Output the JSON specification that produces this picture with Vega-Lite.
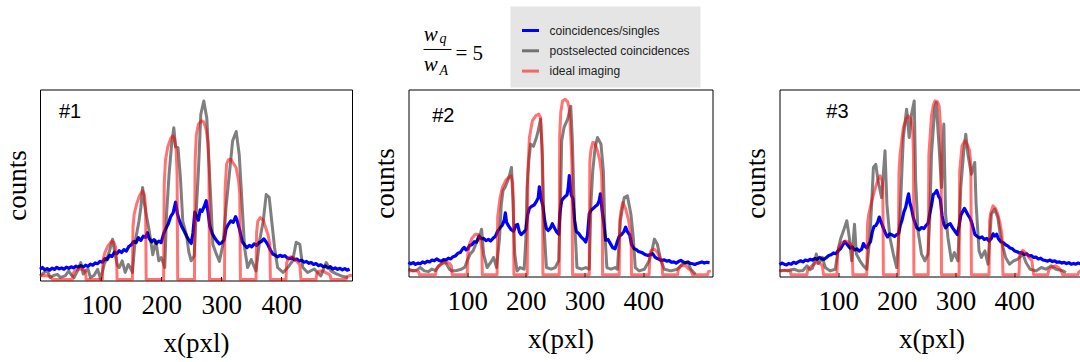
{
"$schema": "https://vega.github.io/schema/vega-lite/v6.json",
"padding": {"left": 2, "top": 5.5, "right": 0, "bottom": 0},
"background": "white",
"config": {
 "view": {"stroke": "black", "strokeWidth": 1},
 "axisX": {"grid": false, "domain": false, "tickColor": "black", "tickSize": -4, "tickWidth": 1, "labelFont": "Liberation Serif", "labelFontSize": 27, "labelColor": "black", "labelPadding": 16, "titleFont": "Liberation Serif", "titleFontSize": 27, "titleFontWeight": "normal", "titleColor": "black", "titlePadding": 12},
 "axisY": {"grid": false, "domain": false, "ticks": false, "labels": false, "titleFont": "Liberation Serif", "titleFontSize": 27, "titleFontWeight": "normal", "titleColor": "black", "titlePadding": 9},
 "title": {"font": "Liberation Sans", "fontSize": 20, "fontWeight": "normal", "color": "black", "anchor": "start", "frame": "group", "baseline": "alphabetic", "offset": -32}
},
"spacing": 16.5,
"resolve": {"scale": {"color": "independent"}, "legend": {"color": "independent"}},
"hconcat": [
{
 "width": 312, "height": 191,
 "title": {"text": "#1", "dx": 19},
 "encoding": {
  "x": {"field": "x", "type": "quantitative", "scale": {"domain": [-2, 518], "nice": false}, "axis": {"values": [100, 200, 300, 400]}, "title": "x(pxl)"},
  "y": {"field": "y", "type": "quantitative", "scale": {"domain": [0, 100], "nice": false}, "title": "counts"}
 },
 "layer": [
  {"mark": {"type": "line", "color": "#0000ff", "strokeWidth": 3.2, "strokeJoin": "round"},
   "data": {"values": [
{"x":-2,"y":5.9},{"x":2,"y":6.8},{"x":6,"y":5.6},{"x":10,"y":6.2},{"x":14,"y":5.4},{"x":18,"y":6.5},{"x":22,"y":5.8},{"x":26,"y":6.9},{"x":30,"y":6.1},{"x":34,"y":6.6},{"x":38,"y":5.9},{"x":42,"y":7.0},{"x":46,"y":6.4},{"x":50,"y":7.2},{"x":54,"y":6.6},{"x":58,"y":7.5},{"x":62,"y":6.9},{"x":66,"y":7.8},{"x":70,"y":7.1},{"x":74,"y":8.0},{"x":78,"y":7.4},{"x":82,"y":8.6},{"x":86,"y":8.0},{"x":90,"y":9.2},{"x":94,"y":8.8},{"x":98,"y":10.0},{"x":102,"y":9.6},{"x":106,"y":11.5},{"x":110,"y":11.0},{"x":114,"y":13.2},{"x":118,"y":12.6},{"x":122,"y":14.8},{"x":126,"y":14.0},{"x":130,"y":15.6},{"x":134,"y":14.6},{"x":138,"y":16.2},{"x":142,"y":15.4},{"x":146,"y":17.8},{"x":150,"y":18.6},{"x":154,"y":20.4},{"x":158,"y":19.8},{"x":162,"y":22.4},{"x":166,"y":21.0},{"x":170,"y":23.2},{"x":174,"y":22.6},{"x":177,"y":25.0},{"x":180,"y":22.0},{"x":184,"y":20.2},{"x":188,"y":21.4},{"x":192,"y":19.4},{"x":196,"y":20.6},{"x":200,"y":19.8},{"x":204,"y":24.5},{"x":208,"y":27.4},{"x":212,"y":29.8},{"x":216,"y":33.6},{"x":220,"y":35.5},{"x":224,"y":41.0},{"x":227,"y":35.0},{"x":230,"y":31.6},{"x":234,"y":28.4},{"x":238,"y":26.0},{"x":242,"y":23.4},{"x":246,"y":21.2},{"x":250,"y":19.4},{"x":253,"y":25.0},{"x":256,"y":35.8},{"x":259,"y":33.4},{"x":262,"y":31.6},{"x":265,"y":37.0},{"x":268,"y":36.2},{"x":272,"y":39.0},{"x":275,"y":41.8},{"x":278,"y":36.0},{"x":281,"y":28.4},{"x":285,"y":24.6},{"x":289,"y":22.4},{"x":293,"y":20.6},{"x":297,"y":19.2},{"x":301,"y":19.8},{"x":305,"y":21.2},{"x":308,"y":27.0},{"x":312,"y":29.4},{"x":316,"y":31.2},{"x":320,"y":30.4},{"x":324,"y":33.4},{"x":327,"y":31.0},{"x":331,"y":26.2},{"x":335,"y":20.4},{"x":339,"y":18.6},{"x":343,"y":17.2},{"x":347,"y":18.4},{"x":351,"y":17.6},{"x":355,"y":19.2},{"x":359,"y":18.4},{"x":363,"y":19.8},{"x":367,"y":20.4},{"x":371,"y":21.8},{"x":374,"y":20.6},{"x":378,"y":18.6},{"x":382,"y":16.0},{"x":386,"y":13.8},{"x":390,"y":13.2},{"x":394,"y":12.4},{"x":398,"y":13.2},{"x":402,"y":12.6},{"x":406,"y":13.0},{"x":410,"y":11.8},{"x":414,"y":11.4},{"x":418,"y":12.0},{"x":422,"y":10.8},{"x":426,"y":11.2},{"x":430,"y":10.2},{"x":434,"y":10.6},{"x":438,"y":9.6},{"x":442,"y":10.0},{"x":446,"y":9.0},{"x":450,"y":9.4},{"x":454,"y":8.4},{"x":458,"y":8.9},{"x":462,"y":7.8},{"x":466,"y":8.2},{"x":470,"y":7.2},{"x":474,"y":7.6},{"x":478,"y":6.6},{"x":482,"y":7.2},{"x":486,"y":6.0},{"x":490,"y":6.6},{"x":494,"y":5.8},{"x":498,"y":6.4},{"x":502,"y":5.6},{"x":506,"y":6.2},{"x":510,"y":5.4},{"x":514,"y":6.0}
   ]}},
  {"mark": {"type": "line", "color": "rgba(0,0,0,0.5)", "strokeWidth": 3, "strokeJoin": "round"},
   "data": {"values": [
{"x":-2,"y":2.4},{"x":5,"y":4.2},{"x":10,"y":5.0},{"x":15,"y":1.6},{"x":22,"y":2.8},{"x":27,"y":3.2},{"x":32,"y":1.6},{"x":40,"y":2.4},{"x":46,"y":5.0},{"x":50,"y":3.0},{"x":55,"y":1.6},{"x":60,"y":4.8},{"x":66,"y":9.4},{"x":70,"y":3.4},{"x":74,"y":5.0},{"x":78,"y":6.0},{"x":82,"y":1.6},{"x":88,"y":2.6},{"x":94,"y":5.9},{"x":99,"y":0.7},{"x":105,"y":8.6},{"x":110,"y":12.0},{"x":114,"y":15.6},{"x":119,"y":21.6},{"x":123,"y":13.8},{"x":127,"y":8.0},{"x":130,"y":6.8},{"x":135,"y":10.3},{"x":140,"y":4.2},{"x":145,"y":8.4},{"x":148,"y":7.0},{"x":152,"y":4.2},{"x":156,"y":19.0},{"x":160,"y":26.0},{"x":163,"y":31.2},{"x":166,"y":38.0},{"x":169,"y":48.7},{"x":172,"y":40.0},{"x":175,"y":34.7},{"x":180,"y":26.0},{"x":186,"y":13.5},{"x":191,"y":20.8},{"x":196,"y":10.3},{"x":200,"y":12.0},{"x":206,"y":6.8},{"x":209,"y":35.0},{"x":213,"y":55.0},{"x":217,"y":70.0},{"x":221,"y":80.0},{"x":224,"y":70.0},{"x":228,"y":69.6},{"x":232,"y":54.0},{"x":236,"y":31.0},{"x":242,"y":24.0},{"x":246,"y":15.0},{"x":250,"y":10.3},{"x":255,"y":13.0},{"x":259,"y":40.0},{"x":262,"y":57.0},{"x":266,"y":87.0},{"x":271,"y":94.0},{"x":276,"y":85.0},{"x":280,"y":59.0},{"x":283,"y":40.0},{"x":286,"y":19.0},{"x":292,"y":13.8},{"x":297,"y":10.0},{"x":303,"y":19.0},{"x":308,"y":38.0},{"x":314,"y":57.0},{"x":319,"y":73.0},{"x":325,"y":78.0},{"x":330,"y":66.0},{"x":333,"y":50.0},{"x":339,"y":17.0},{"x":344,"y":6.8},{"x":350,"y":11.0},{"x":358,"y":5.0},{"x":364,"y":20.8},{"x":370,"y":31.0},{"x":375,"y":45.0},{"x":380,"y":43.5},{"x":383,"y":34.7},{"x":389,"y":17.0},{"x":394,"y":6.8},{"x":403,"y":4.2},{"x":411,"y":6.8},{"x":419,"y":10.3},{"x":425,"y":20.0},{"x":431,"y":19.0},{"x":436,"y":6.8},{"x":444,"y":4.2},{"x":455,"y":6.0},{"x":466,"y":2.4},{"x":475,"y":9.4},{"x":483,"y":5.0},{"x":491,"y":3.6},{"x":500,"y":2.4},{"x":511,"y":1.6}
   ]}},
  {"mark": {"type": "line", "color": "rgba(255,0,0,0.55)", "strokeWidth": 3, "strokeJoin": "round"},
   "data": {"values": [
{"x":-2,"y":2.4},{"x":5,"y":2.6},{"x":12,"y":2.4},{"x":17,"y":1.8},{"x":18.5,"y":0.5},
{"x":52,"y":0.5},{"x":53,"y":3.6},{"x":56,"y":5.0},{"x":62,"y":5.9},{"x":68,"y":6.0},{"x":72,"y":5.4},{"x":74,"y":4.0},{"x":75,"y":0.5},
{"x":102,"y":0.5},{"x":103,"y":10.5},{"x":106,"y":14.5},{"x":111,"y":18},{"x":117,"y":20.4},{"x":121,"y":20},{"x":124,"y":17.5},{"x":125.5,"y":12},{"x":126.5,"y":0.5},
{"x":152,"y":0.5},{"x":153,"y":28},{"x":155,"y":34.7},{"x":159,"y":40},{"x":164,"y":44.5},{"x":169,"y":47},{"x":172,"y":45},{"x":174,"y":38},{"x":175,"y":0.5},
{"x":204,"y":0.5},{"x":205,"y":50},{"x":207,"y":62.7},{"x":211,"y":70},{"x":216,"y":74.5},{"x":219,"y":75.7},{"x":222,"y":74.5},{"x":225,"y":68},{"x":226.5,"y":55},{"x":227.5,"y":0.5},
{"x":255.5,"y":0.5},{"x":256.5,"y":62},{"x":258.5,"y":76},{"x":262,"y":81.8},{"x":267,"y":83.6},{"x":271,"y":83},{"x":275,"y":79},{"x":278,"y":72},{"x":279.5,"y":60},{"x":280.5,"y":0.5},
{"x":305.5,"y":0.5},{"x":306.5,"y":48},{"x":309,"y":61},{"x":312,"y":63.2},{"x":316,"y":63.5},{"x":320,"y":61.5},{"x":325,"y":59},{"x":329,"y":52},{"x":331,"y":45},{"x":332,"y":0.5},
{"x":358,"y":0.5},{"x":359,"y":25},{"x":361,"y":31},{"x":365,"y":33},{"x":370,"y":31.5},{"x":374,"y":27.7},{"x":378,"y":24},{"x":381,"y":19},{"x":382,"y":0.5},
{"x":408,"y":0.5},{"x":409,"y":9},{"x":412,"y":12},{"x":417,"y":12.4},{"x":422,"y":11.5},{"x":427,"y":9.8},{"x":431,"y":8},{"x":433,"y":0.5},
{"x":458,"y":0.5},{"x":459.5,"y":3.8},{"x":463,"y":5.0},{"x":469,"y":5.0},{"x":475,"y":4.0},{"x":480,"y":3.2},{"x":482,"y":2.4},{"x":483,"y":0.5},
{"x":508,"y":0.5},{"x":510,"y":2.0},{"x":514,"y":2.6},{"x":518,"y":2.8}
   ]}}
 ]
},
{
 "spacing": 28,
 "resolve": {"scale": {"color": "independent"}, "legend": {"color": "independent"}},
 "hconcat": [
 {
  "width": 304, "height": 187,
  "layer": [
   {"mark": {"type": "line", "strokeWidth": 3.2, "strokeJoin": "round"},
    "encoding": {
     "x": {"field": "x", "type": "quantitative", "scale": {"domain": [0, 518], "nice": false}, "axis": {"values": [100, 200, 300, 400]}, "title": "x(pxl)"},
     "y": {"field": "y", "type": "quantitative", "scale": {"domain": [0, 100], "nice": false}, "title": "counts"},
     "color": {"datum": "coincidences/singles", "type": "nominal",
      "scale": {"domain": ["coincidences/singles", "postselected coincidences", "ideal imaging"], "range": ["#0000ff", "rgba(0,0,0,0.5)", "rgba(255,0,0,0.55)"]},
      "legend": {"orient": "none", "legendX": 102, "legendY": -83, "fillColor": "#e5e5e5", "padding": 10, "title": " ", "titleFontSize": 3, "titlePadding": 1, "symbolType": "stroke", "symbolSize": 289, "symbolStrokeWidth": 3, "labelFont": "Liberation Sans", "labelFontSize": 12, "labelColor": "#222222", "labelOffset": 9, "rowPadding": 4.3}}},
    "data": {"values": [
{"x":0,"y":7.6},{"x":4,"y":6.8},{"x":8,"y":7.4},{"x":12,"y":6.5},{"x":16,"y":7.2},{"x":20,"y":6.8},{"x":24,"y":7.8},{"x":28,"y":7.2},{"x":32,"y":8.2},{"x":36,"y":7.8},{"x":40,"y":8.8},{"x":44,"y":8.4},{"x":48,"y":9.4},{"x":52,"y":8.6},{"x":56,"y":8.2},{"x":60,"y":9.0},{"x":64,"y":8.8},{"x":68,"y":9.8},{"x":72,"y":9.4},{"x":76,"y":10.6},{"x":80,"y":11.0},{"x":84,"y":12.4},{"x":88,"y":12.8},{"x":92,"y":14.6},{"x":95,"y":15.6},{"x":98,"y":14.2},{"x":101,"y":14.8},{"x":104,"y":16.6},{"x":108,"y":17.0},{"x":112,"y":18.6},{"x":116,"y":18.4},{"x":120,"y":21.6},{"x":124,"y":20.2},{"x":128,"y":20.4},{"x":132,"y":19.2},{"x":136,"y":19.8},{"x":140,"y":19.0},{"x":144,"y":20.4},{"x":148,"y":21.4},{"x":152,"y":24.4},{"x":156,"y":26.0},{"x":160,"y":27.6},{"x":163,"y":30.0},{"x":165,"y":34.0},{"x":167,"y":29.0},{"x":171,"y":26.8},{"x":175,"y":25.0},{"x":179,"y":24.2},{"x":183,"y":27.4},{"x":186,"y":27.8},{"x":189,"y":23.8},{"x":192,"y":22.4},{"x":196,"y":23.6},{"x":200,"y":25.0},{"x":203,"y":33.0},{"x":206,"y":36.4},{"x":210,"y":37.6},{"x":214,"y":38.2},{"x":218,"y":40.2},{"x":221,"y":42.0},{"x":223,"y":48.0},{"x":226,"y":41.6},{"x":229,"y":37.6},{"x":232,"y":30.0},{"x":235,"y":25.6},{"x":238,"y":24.6},{"x":242,"y":26.0},{"x":245,"y":28.2},{"x":248,"y":26.4},{"x":252,"y":24.0},{"x":256,"y":22.6},{"x":258,"y":34.0},{"x":261,"y":40.6},{"x":264,"y":41.8},{"x":267,"y":42.8},{"x":270,"y":43.6},{"x":272,"y":47.0},{"x":274,"y":54.0},{"x":277,"y":44.0},{"x":280,"y":41.6},{"x":283,"y":30.0},{"x":286,"y":24.0},{"x":290,"y":23.0},{"x":294,"y":21.2},{"x":298,"y":20.0},{"x":302,"y":18.4},{"x":305,"y":22.0},{"x":308,"y":33.6},{"x":311,"y":35.4},{"x":314,"y":36.2},{"x":318,"y":37.4},{"x":322,"y":38.4},{"x":325,"y":40.6},{"x":327,"y":44.2},{"x":330,"y":35.0},{"x":333,"y":28.0},{"x":336,"y":19.4},{"x":340,"y":19.8},{"x":344,"y":17.6},{"x":348,"y":15.4},{"x":352,"y":14.8},{"x":356,"y":18.8},{"x":359,"y":21.4},{"x":363,"y":22.4},{"x":367,"y":24.0},{"x":370,"y":26.4},{"x":373,"y":24.0},{"x":377,"y":22.2},{"x":380,"y":17.0},{"x":384,"y":15.0},{"x":388,"y":14.4},{"x":392,"y":13.4},{"x":396,"y":13.0},{"x":400,"y":12.4},{"x":404,"y":11.6},{"x":408,"y":11.2},{"x":412,"y":11.8},{"x":416,"y":12.2},{"x":420,"y":10.4},{"x":424,"y":9.6},{"x":428,"y":9.0},{"x":432,"y":8.6},{"x":436,"y":8.9},{"x":440,"y":8.2},{"x":444,"y":8.6},{"x":448,"y":7.6},{"x":452,"y":7.8},{"x":456,"y":7.2},{"x":460,"y":8.0},{"x":464,"y":8.6},{"x":468,"y":7.8},{"x":472,"y":7.4},{"x":476,"y":7.8},{"x":480,"y":7.0},{"x":484,"y":6.8},{"x":488,"y":6.4},{"x":492,"y":7.0},{"x":496,"y":7.4},{"x":500,"y":7.8},{"x":504,"y":7.2},{"x":508,"y":7.6},{"x":513,"y":7.4}
    ]}},
   {"mark": {"type": "line", "strokeWidth": 3, "strokeJoin": "round"},
    "encoding": {"x": {"field": "x", "type": "quantitative"}, "y": {"field": "y", "type": "quantitative"}, "color": {"datum": "postselected coincidences", "type": "nominal"}},
    "data": {"values": [
{"x":0,"y":3.9},{"x":8,"y":3.0},{"x":14,"y":3.4},{"x":20,"y":4.8},{"x":27,"y":3.0},{"x":34,"y":2.6},{"x":40,"y":4.0},{"x":46,"y":3.2},{"x":52,"y":5.7},{"x":57,"y":7.0},{"x":61,"y":8.4},{"x":66,"y":6.0},{"x":70,"y":3.8},{"x":74,"y":3.0},{"x":82,"y":3.2},{"x":90,"y":3.9},{"x":96,"y":5.0},{"x":100,"y":8.4},{"x":105,"y":12.0},{"x":110,"y":13.7},{"x":117,"y":19.0},{"x":121,"y":21.0},{"x":124.5,"y":25.3},{"x":128,"y":12.0},{"x":134,"y":4.8},{"x":140,"y":7.5},{"x":145,"y":10.2},{"x":150,"y":4.8},{"x":155,"y":20.0},{"x":158,"y":38.0},{"x":161,"y":45.8},{"x":165,"y":48.0},{"x":169,"y":51.2},{"x":172,"y":54.0},{"x":175.5,"y":58.3},{"x":178,"y":40.0},{"x":181,"y":12.0},{"x":185,"y":3.0},{"x":190,"y":4.8},{"x":197,"y":3.9},{"x":200,"y":20.0},{"x":202,"y":47.6},{"x":205,"y":62.0},{"x":208,"y":70.8},{"x":213,"y":69.6},{"x":218,"y":74.3},{"x":221,"y":78.0},{"x":225,"y":84.1},{"x":228,"y":65.4},{"x":231,"y":26.0},{"x":235,"y":4.8},{"x":243,"y":3.9},{"x":250,"y":4.8},{"x":256,"y":8.4},{"x":259,"y":40.0},{"x":261,"y":72.5},{"x":265,"y":79.7},{"x":271,"y":84.0},{"x":276.5,"y":91.0},{"x":279,"y":74.3},{"x":283,"y":29.8},{"x":287,"y":4.8},{"x":295,"y":3.9},{"x":302,"y":4.8},{"x":308,"y":3.9},{"x":311,"y":40.0},{"x":314,"y":56.5},{"x":318,"y":69.0},{"x":322,"y":74.3},{"x":328,"y":70.8},{"x":332,"y":56.5},{"x":335,"y":20.9},{"x":338,"y":4.8},{"x":345,"y":3.9},{"x":352,"y":4.8},{"x":356,"y":3.9},{"x":361,"y":29.8},{"x":367.6,"y":42.2},{"x":373,"y":43.1},{"x":379,"y":33.3},{"x":383,"y":20.9},{"x":386.4,"y":4.8},{"x":393,"y":3.0},{"x":402,"y":3.9},{"x":410,"y":8.4},{"x":415,"y":14.0},{"x":419,"y":20.0},{"x":424,"y":17.3},{"x":430,"y":8.4},{"x":436,"y":3.9},{"x":447,"y":3.0},{"x":458,"y":3.9},{"x":467,"y":6.6},{"x":476,"y":7.5},{"x":481,"y":3.9},{"x":489,"y":1.2}
    ]}},
   {"mark": {"type": "line", "strokeWidth": 3, "strokeJoin": "round"},
    "encoding": {"x": {"field": "x", "type": "quantitative"}, "y": {"field": "y", "type": "quantitative"}, "color": {"datum": "ideal imaging", "type": "nominal"}},
    "data": {"values": [
{"x":0,"y":3.0},{"x":8,"y":3.2},{"x":14,"y":3.0},{"x":17.6,"y":2.4},{"x":18.5,"y":1},
{"x":46,"y":1},{"x":47.5,"y":4.0},{"x":51,"y":5.7},{"x":58,"y":7.0},{"x":66,"y":7.5},{"x":70,"y":7.0},{"x":73,"y":5.7},{"x":74.4,"y":1},
{"x":100,"y":1},{"x":101,"y":12},{"x":104,"y":17.3},{"x":108,"y":20.5},{"x":114,"y":22.6},{"x":119,"y":22.4},{"x":123,"y":19},{"x":125,"y":14},{"x":125.8,"y":1},
{"x":151,"y":1},{"x":152,"y":32},{"x":156,"y":42.2},{"x":160,"y":47.6},{"x":166,"y":51.5},{"x":171,"y":53},{"x":175,"y":53.8},{"x":177.5,"y":50},{"x":178.8,"y":40},{"x":179.6,"y":1},
{"x":202.3,"y":1},{"x":203.3,"y":55},{"x":206,"y":74.3},{"x":211,"y":83.2},{"x":217,"y":86},{"x":222,"y":86.8},{"x":225,"y":85},{"x":227.5,"y":70},{"x":228.5,"y":50},{"x":229,"y":1},
{"x":256.8,"y":1},{"x":257.6,"y":75},{"x":259.5,"y":88},{"x":262.5,"y":93.9},{"x":267,"y":94.8},{"x":271,"y":93.5},{"x":274,"y":90},{"x":276.5,"y":75},{"x":278.5,"y":60},{"x":279.6,"y":1},
{"x":308,"y":1},{"x":309,"y":62},{"x":311,"y":68},{"x":314,"y":71.7},{"x":317,"y":71.5},{"x":322,"y":67.2},{"x":326,"y":62},{"x":329,"y":54.7},{"x":330.2,"y":40},{"x":330.7,"y":1},
{"x":359,"y":1},{"x":360,"y":30},{"x":362,"y":35},{"x":365,"y":39.6},{"x":369,"y":37},{"x":371,"y":35.1},{"x":375,"y":30},{"x":378,"y":24},{"x":379.5,"y":18},{"x":380,"y":1},
{"x":410,"y":1},{"x":411,"y":11},{"x":413,"y":13.7},{"x":419,"y":14.6},{"x":424,"y":13},{"x":428,"y":10.2},{"x":432,"y":8},{"x":433,"y":1},
{"x":458.5,"y":1},{"x":460,"y":4},{"x":464,"y":5.7},{"x":472,"y":5.7},{"x":477,"y":4.2},{"x":481,"y":3.4},{"x":484,"y":1},
{"x":509.7,"y":1},{"x":511,"y":2.6},{"x":515,"y":3.0}
    ]}},
   {"data": {"values": [{"t": "#2"}]},
    "mark": {"type": "text", "font": "Liberation Sans", "fontSize": 20, "align": "left", "baseline": "alphabetic", "color": "black"},
    "encoding": {"text": {"field": "t", "type": "nominal"}, "x": {"datum": 40.4, "type": "quantitative"}, "y": {"datum": 82.7, "type": "quantitative"}}},
   {"data": {"values": [{"t": "w"}]},
    "mark": {"type": "text", "font": "Liberation Serif", "fontStyle": "italic", "fontSize": 21, "align": "left", "baseline": "alphabetic", "color": "black"},
    "encoding": {"text": {"field": "t", "type": "nominal"}, "x": {"datum": 26.0, "type": "quantitative"}, "y": {"datum": 125.7, "type": "quantitative"}}},
   {"data": {"values": [{"t": "q"}]},
    "mark": {"type": "text", "font": "Liberation Serif", "fontStyle": "italic", "fontSize": 14, "align": "left", "baseline": "alphabetic", "color": "black"},
    "encoding": {"text": {"field": "t", "type": "nominal"}, "x": {"datum": 52.8, "type": "quantitative"}, "y": {"datum": 124.8, "type": "quantitative"}}},
   {"data": {"values": [{"t": "bar"}]},
    "mark": {"type": "rule", "color": "black", "strokeWidth": 1},
    "encoding": {"x": {"datum": 25.6, "type": "quantitative"}, "x2": {"datum": 73.3}, "y": {"datum": 121.4, "type": "quantitative"}}},
   {"data": {"values": [{"t": "w"}]},
    "mark": {"type": "text", "font": "Liberation Serif", "fontStyle": "italic", "fontSize": 21, "align": "left", "baseline": "alphabetic", "color": "black"},
    "encoding": {"text": {"field": "t", "type": "nominal"}, "x": {"datum": 26.0, "type": "quantitative"}, "y": {"datum": 109.8, "type": "quantitative"}}},
   {"data": {"values": [{"t": "A"}]},
    "mark": {"type": "text", "font": "Liberation Serif", "fontStyle": "italic", "fontSize": 14, "align": "left", "baseline": "alphabetic", "color": "black"},
    "encoding": {"text": {"field": "t", "type": "nominal"}, "x": {"datum": 52.8, "type": "quantitative"}, "y": {"datum": 108.0, "type": "quantitative"}}},
   {"data": {"values": [{"t": "= 5"}]},
    "mark": {"type": "text", "font": "Liberation Serif", "fontSize": 21, "align": "left", "baseline": "alphabetic", "color": "black"},
    "encoding": {"text": {"field": "t", "type": "nominal"}, "x": {"datum": 80.1, "type": "quantitative"}, "y": {"datum": 116.0, "type": "quantitative"}}}
  ]
 },
 {
  "width": 304, "height": 187,
  "title": {"text": "#3", "dx": 46.8},
  "encoding": {
   "x": {"field": "x", "type": "quantitative", "scale": {"domain": [0, 518], "nice": false}, "axis": {"values": [100, 200, 300, 400]}, "title": "x(pxl)"},
   "y": {"field": "y", "type": "quantitative", "scale": {"domain": [0, 100], "nice": false}, "title": "counts"}
  },
  "layer": [
   {"mark": {"type": "line", "color": "#0000ff", "strokeWidth": 3.2, "strokeJoin": "round"},
    "data": {"values": [
{"x":0,"y":6.4},{"x":4,"y":7.2},{"x":8,"y":6.6},{"x":12,"y":6.2},{"x":16,"y":7.0},{"x":20,"y":6.6},{"x":24,"y":7.6},{"x":28,"y":7.0},{"x":32,"y":7.8},{"x":36,"y":8.4},{"x":40,"y":7.8},{"x":44,"y":8.8},{"x":48,"y":8.4},{"x":52,"y":9.2},{"x":56,"y":8.8},{"x":60,"y":9.6},{"x":64,"y":9.2},{"x":68,"y":10.2},{"x":72,"y":9.4},{"x":76,"y":9.2},{"x":80,"y":10.2},{"x":84,"y":11.2},{"x":88,"y":11.6},{"x":92,"y":12.6},{"x":96,"y":12.2},{"x":100,"y":13.8},{"x":104,"y":14.8},{"x":108,"y":17.0},{"x":111,"y":18.6},{"x":114,"y":17.6},{"x":117,"y":16.4},{"x":120,"y":15.2},{"x":124,"y":15.8},{"x":128,"y":14.2},{"x":132,"y":14.8},{"x":136,"y":13.6},{"x":140,"y":14.6},{"x":143,"y":17.6},{"x":146,"y":16.0},{"x":149,"y":15.2},{"x":152,"y":17.4},{"x":155,"y":18.6},{"x":158,"y":23.6},{"x":161,"y":26.8},{"x":164,"y":27.2},{"x":167,"y":28.8},{"x":170,"y":31.8},{"x":172,"y":30.0},{"x":175,"y":27.6},{"x":178,"y":25.0},{"x":181,"y":22.8},{"x":184,"y":21.2},{"x":188,"y":22.8},{"x":192,"y":22.2},{"x":196,"y":21.4},{"x":200,"y":22.4},{"x":203,"y":23.0},{"x":206,"y":27.6},{"x":209,"y":30.4},{"x":212,"y":34.6},{"x":215,"y":37.0},{"x":218,"y":41.6},{"x":220,"y":44.2},{"x":222,"y":39.6},{"x":225,"y":36.4},{"x":228,"y":31.4},{"x":231,"y":28.6},{"x":234,"y":26.0},{"x":238,"y":25.0},{"x":242,"y":26.2},{"x":246,"y":25.6},{"x":250,"y":27.4},{"x":253,"y":28.4},{"x":256,"y":33.6},{"x":259,"y":38.0},{"x":262,"y":43.8},{"x":265,"y":44.6},{"x":268,"y":46.0},{"x":271,"y":43.0},{"x":274,"y":41.4},{"x":277,"y":32.6},{"x":280,"y":28.0},{"x":283,"y":26.0},{"x":287,"y":27.6},{"x":291,"y":28.2},{"x":295,"y":26.0},{"x":299,"y":24.2},{"x":303,"y":22.4},{"x":306,"y":27.0},{"x":309,"y":32.8},{"x":312,"y":34.6},{"x":315,"y":36.4},{"x":318,"y":34.8},{"x":321,"y":33.0},{"x":324,"y":31.6},{"x":327,"y":29.4},{"x":330,"y":26.0},{"x":333,"y":22.4},{"x":337,"y":21.4},{"x":341,"y":20.6},{"x":345,"y":21.2},{"x":349,"y":19.8},{"x":353,"y":20.4},{"x":357,"y":19.0},{"x":361,"y":20.4},{"x":364,"y":22.8},{"x":367,"y":21.6},{"x":370,"y":22.6},{"x":373,"y":20.2},{"x":377,"y":18.6},{"x":381,"y":18.2},{"x":385,"y":17.0},{"x":389,"y":16.4},{"x":393,"y":15.2},{"x":397,"y":14.8},{"x":401,"y":13.6},{"x":405,"y":13.2},{"x":409,"y":12.6},{"x":413,"y":12.8},{"x":417,"y":11.8},{"x":421,"y":12.2},{"x":425,"y":11.0},{"x":429,"y":11.2},{"x":433,"y":10.2},{"x":437,"y":10.4},{"x":441,"y":9.4},{"x":445,"y":9.8},{"x":449,"y":8.8},{"x":453,"y":8.6},{"x":457,"y":8.2},{"x":461,"y":8.8},{"x":465,"y":8.0},{"x":469,"y":8.4},{"x":473,"y":7.6},{"x":477,"y":7.8},{"x":481,"y":7.2},{"x":485,"y":7.6},{"x":489,"y":6.9},{"x":493,"y":7.4},{"x":497,"y":6.6},{"x":501,"y":7.0},{"x":505,"y":6.6},{"x":509,"y":7.2},{"x":513,"y":6.8},{"x":517,"y":7.0}
    ]}},
   {"mark": {"type": "line", "color": "rgba(0,0,0,0.5)", "strokeWidth": 3, "strokeJoin": "round"},
    "data": {"values": [
{"x":0,"y":3.0},{"x":8,"y":3.4},{"x":14,"y":3.0},{"x":20,"y":3.6},{"x":25,"y":3.9},{"x":32,"y":3.0},{"x":40,"y":3.2},{"x":47,"y":5.7},{"x":52,"y":3.6},{"x":56,"y":4.4},{"x":60,"y":8.0},{"x":62.7,"y":12.0},{"x":66,"y":7.0},{"x":70,"y":8.4},{"x":73,"y":10.2},{"x":78,"y":4.8},{"x":86,"y":3.0},{"x":95,"y":3.9},{"x":100.6,"y":15.5},{"x":104,"y":20.0},{"x":109,"y":24.4},{"x":114.7,"y":29.8},{"x":119,"y":20.9},{"x":123,"y":8.4},{"x":127.8,"y":28.0},{"x":131,"y":12.0},{"x":137,"y":8.4},{"x":143,"y":5.7},{"x":148.7,"y":3.9},{"x":154,"y":20.9},{"x":158,"y":45.0},{"x":160,"y":58.3},{"x":164,"y":60.0},{"x":168,"y":51.2},{"x":174,"y":42.2},{"x":179.8,"y":67.2},{"x":183,"y":38.7},{"x":188,"y":20.9},{"x":194,"y":12.0},{"x":199.6,"y":4.8},{"x":205,"y":29.8},{"x":211,"y":74.3},{"x":216.6,"y":89.5},{"x":221,"y":74.3},{"x":225,"y":86.8},{"x":229.6,"y":93.9},{"x":232,"y":51.2},{"x":236,"y":24.4},{"x":242,"y":12.0},{"x":247.7,"y":8.4},{"x":253,"y":12.0},{"x":256,"y":29.8},{"x":259,"y":65.4},{"x":264.7,"y":90.4},{"x":267,"y":93.0},{"x":272,"y":69.0},{"x":276,"y":47.6},{"x":280,"y":81.5},{"x":283,"y":33.3},{"x":287,"y":20.9},{"x":293,"y":8.4},{"x":298,"y":12.8},{"x":304,"y":8.4},{"x":308.9,"y":47.6},{"x":314,"y":67.2},{"x":317.4,"y":76.1},{"x":321,"y":65.4},{"x":327,"y":54.7},{"x":332.7,"y":61.0},{"x":335,"y":38.7},{"x":340,"y":13.7},{"x":344,"y":10.2},{"x":350,"y":13.7},{"x":355.3,"y":6.6},{"x":361,"y":33.3},{"x":366.6,"y":36.0},{"x":372,"y":31.6},{"x":376,"y":22.6},{"x":381,"y":15.5},{"x":385.3,"y":10.2},{"x":392,"y":6.6},{"x":399,"y":8.4},{"x":406,"y":9.3},{"x":414.7,"y":12.0},{"x":420,"y":7.5},{"x":427,"y":3.9},{"x":437,"y":3.0},{"x":446,"y":4.8},{"x":454,"y":3.9},{"x":463,"y":5.7},{"x":471,"y":3.9},{"x":483,"y":3.0},{"x":488,"y":2.1}
    ]}},
   {"mark": {"type": "line", "color": "rgba(255,0,0,0.55)", "strokeWidth": 3, "strokeJoin": "round"},
    "data": {"values": [
{"x":0,"y":3.0},{"x":8,"y":3.2},{"x":14,"y":3.4},{"x":18.5,"y":3.0},{"x":19.5,"y":1},
{"x":46.8,"y":1},{"x":48,"y":3.6},{"x":52,"y":4.8},{"x":58,"y":6.6},{"x":64,"y":7.5},{"x":69,"y":7.0},{"x":73,"y":5.8},{"x":75,"y":1},
{"x":97.8,"y":1},{"x":99,"y":12},{"x":101,"y":15.5},{"x":106,"y":18},{"x":112,"y":19},{"x":117,"y":18.5},{"x":122,"y":17},{"x":124,"y":14.6},{"x":125,"y":1},
{"x":148.7,"y":1},{"x":150,"y":28},{"x":152,"y":33.3},{"x":157,"y":40},{"x":162,"y":46},{"x":167,"y":51},{"x":171.3,"y":53.8},{"x":174,"y":52},{"x":176,"y":49.4},{"x":177,"y":1},
{"x":202.5,"y":1},{"x":203.5,"y":55},{"x":205.5,"y":65.4},{"x":211,"y":79.7},{"x":216,"y":84.5},{"x":219.5,"y":85.9},{"x":224,"y":84},{"x":227,"y":78},{"x":228.3,"y":65.4},{"x":229,"y":1},
{"x":253.4,"y":1},{"x":254.5,"y":65},{"x":256.5,"y":74.3},{"x":259,"y":86},{"x":262,"y":91.5},{"x":265,"y":93.9},{"x":269,"y":93.5},{"x":272,"y":91.3},{"x":274.5,"y":80},{"x":275.5,"y":65.4},{"x":276,"y":1},
{"x":306,"y":1},{"x":307,"y":56.5},{"x":311,"y":69.9},{"x":315.7,"y":72.5},{"x":320,"y":70.5},{"x":324,"y":67.2},{"x":326,"y":60},{"x":327,"y":1},
{"x":357,"y":1},{"x":358,"y":29.8},{"x":360,"y":34},{"x":363.8,"y":37.8},{"x":368,"y":36.5},{"x":372,"y":33.3},{"x":376,"y":28},{"x":379,"y":22.6},{"x":380.8,"y":1},
{"x":408,"y":1},{"x":409.5,"y":12},{"x":414.7,"y":14.0},{"x":420,"y":12.5},{"x":425,"y":10.2},{"x":430,"y":8.5},{"x":433,"y":1},
{"x":457.2,"y":1},{"x":459,"y":3.6},{"x":463,"y":4.8},{"x":470,"y":5.7},{"x":476,"y":4.6},{"x":480,"y":3.2},{"x":482.6,"y":1},
{"x":508,"y":1},{"x":510,"y":2.4},{"x":514,"y":3.2},{"x":518,"y":3.4}
    ]}}
  ]
 }
 ]
}
]
}
